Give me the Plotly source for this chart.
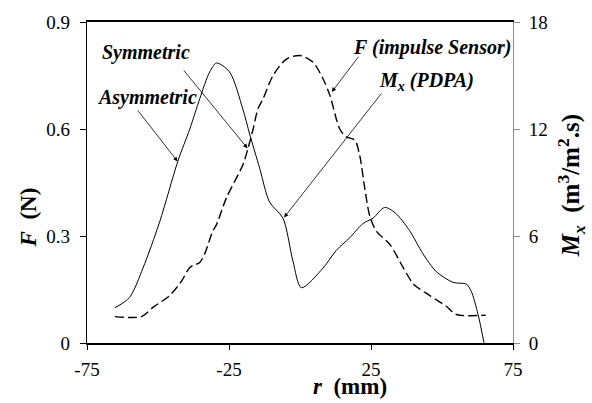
import plotly.graph_objects as go

# Radial position r (mm) and measured profiles
r_force = [-65.2, -55.8, -51.8, -45.9, -41.6, -38.8, -35.3, -33.6, -30.7, -29.4,
           -25.9, -20.1, -18.3, -16.5, -14.8, -13.0, -9.5, -4.8, 0.0, 4.6,
           8.1, 10.5, 14.0, 16.3, 19.3, 21.0, 22.8, 24.6, 27.0, 31.6,
           36.3, 40.0, 45.7, 51.5, 55.1, 65.4]
force_n = [0.074, 0.074, 0.100, 0.133, 0.175, 0.212, 0.226, 0.249, 0.314, 0.332,
           0.407, 0.500, 0.546, 0.600, 0.657, 0.685, 0.750, 0.796, 0.806, 0.787,
           0.741, 0.695, 0.600, 0.578, 0.569, 0.527, 0.434, 0.355, 0.312, 0.277,
           0.212, 0.165, 0.133, 0.103, 0.080, 0.078]

r_flux = [-65.2, -60.0, -55.3, -49.4, -43.0, -38.8, -35.3, -31.8, -29.4, -24.8,
          -20.1, -17.7, -14.2, -10.7, -6.0, -2.5, 0.5, 8.1, 12.8, 17.5,
          22.2, 25.7, 29.8, 33.5, 38.6, 43.3, 48.0, 53.9, 58.6, 60.3,
          62.7, 64.8]
mass_flux = [1.97, 2.56, 4.2, 6.8, 10.2, 12.0, 13.7, 15.2, 15.7, 15.2,
             13.1, 11.7, 9.8, 7.9, 7.0, 4.6, 3.1, 4.2, 5.2, 5.9,
             6.7, 7.0, 7.6, 7.3, 6.3, 5.0, 4.0, 3.4, 3.3, 2.9,
             1.6, 0.0]

x_ticks = [-75, -25, 25, 75]
f_ticks = [0, 0.3, 0.6, 0.9]
f_tick_text = ["0", "0.3", "0.6", "0.9"]
m_ticks = [0, 6, 12, 18]

SERIF = "Liberation Serif, Times New Roman, serif"

fig = go.Figure()
fig.add_trace(go.Scatter(
    x=r_force, y=force_n, mode="lines", yaxis="y",
    line=dict(color="black", width=1.4, dash="9px,4px", shape="spline", smoothing=0.8),
    showlegend=False, hoverinfo="skip"))
fig.add_trace(go.Scatter(
    x=r_flux, y=mass_flux, mode="lines", yaxis="y2",
    line=dict(color="black", width=1, shape="spline", smoothing=0.8),
    showlegend=False, hoverinfo="skip"))

tick_font = dict(family=SERIF, size=19, color="black")

fig.update_layout(
    width=592, height=403,
    margin=dict(l=87, r=79, t=20, b=60, pad=0),
    paper_bgcolor="white", plot_bgcolor="white",
    font=dict(family=SERIF, color="black"),
    xaxis=dict(range=[-75, 75], tickvals=x_ticks, ticktext=[str(v) for v in x_ticks],
               showgrid=False, zeroline=False, showline=True, linecolor="black",
               linewidth=1.5, mirror=True, ticks="outside", ticklen=5,
               tickcolor="black", tickfont=tick_font, ticklabelstandoff=3),
    yaxis=dict(range=[0, 0.9], tickvals=f_ticks, ticktext=f_tick_text,
               showgrid=False, zeroline=False, showline=True, linecolor="black",
               linewidth=1.2, ticks="outside", ticklen=6, tickcolor="black",
               tickfont=tick_font, ticklabelstandoff=6),
    yaxis2=dict(range=[0, 18], tickvals=m_ticks, overlaying="y", side="right",
                showgrid=False, zeroline=False, showline=True, linecolor="#8c8c8c",
                linewidth=1, ticks="outside", ticklen=6, tickcolor="#8c8c8c",
                tickfont=tick_font, ticklabelstandoff=5),
)

title_font = dict(family=SERIF, size=23, color="black")
right_title_font = dict(family=SERIF, size=25, color="black")
label_font = dict(family=SERIF, size=20, color="black")

annotations = [
    # axis titles
    dict(text="<b><i>F</i>\u00a0\u00a0(N)</b>", xref="paper", yref="paper",
         x=-0.137, y=0.39, xanchor="center", yanchor="middle",
         textangle=-90, showarrow=False, font=title_font),
    dict(text="<b><i>M<sub>x</sub></i>\u00a0\u00a0(m<sup>3</sup>/m<sup>2</sup>.s)</b>",
         xref="paper", yref="paper", x=1.135, y=0.49, xanchor="center", yanchor="middle",
         textangle=-90, showarrow=False, font=right_title_font),
    dict(text="<b><i>r</i>\u00a0\u00a0(mm)</b>", xref="paper", yref="paper",
         x=0.617, y=-0.134, xanchor="center", yanchor="middle",
         showarrow=False, font=title_font),
    # curve labels
    dict(text="<b><i>Symmetric</i></b>", x=-54.3, y=0.815, showarrow=False, font=label_font),
    dict(text="<b><i>Asymmetric</i></b>", x=-54.0, y=0.688, showarrow=False, font=label_font),
    dict(text="<b><i>F (impulse Sensor)</i></b>", x=46.4, y=0.829, showarrow=False, font=label_font),
    dict(text="<b><i>M<sub>x</sub> (PDPA)</i></b>", x=44.6, y=0.732, showarrow=False, font=label_font),
]

# leader arrows: (tail r, tail F, head r, head F)
arrows = [
    (-41.3, 0.768, -18.5, 0.546),
    (-57.5, 0.656, -43.1, 0.509),
    (21.0, 0.807, 11.2, 0.704),
    (29.1, 0.704, -5.6, 0.352),
]
for tx, ty, hx, hy in arrows:
    annotations.append(dict(
        x=hx, y=hy, ax=tx, ay=ty, xref="x", yref="y", axref="x", ayref="y",
        text="", showarrow=True, arrowhead=2, arrowsize=1.1, arrowwidth=0.8,
        arrowcolor="black"))

fig.update_layout(annotations=annotations)
fig.write_html("out.html")
